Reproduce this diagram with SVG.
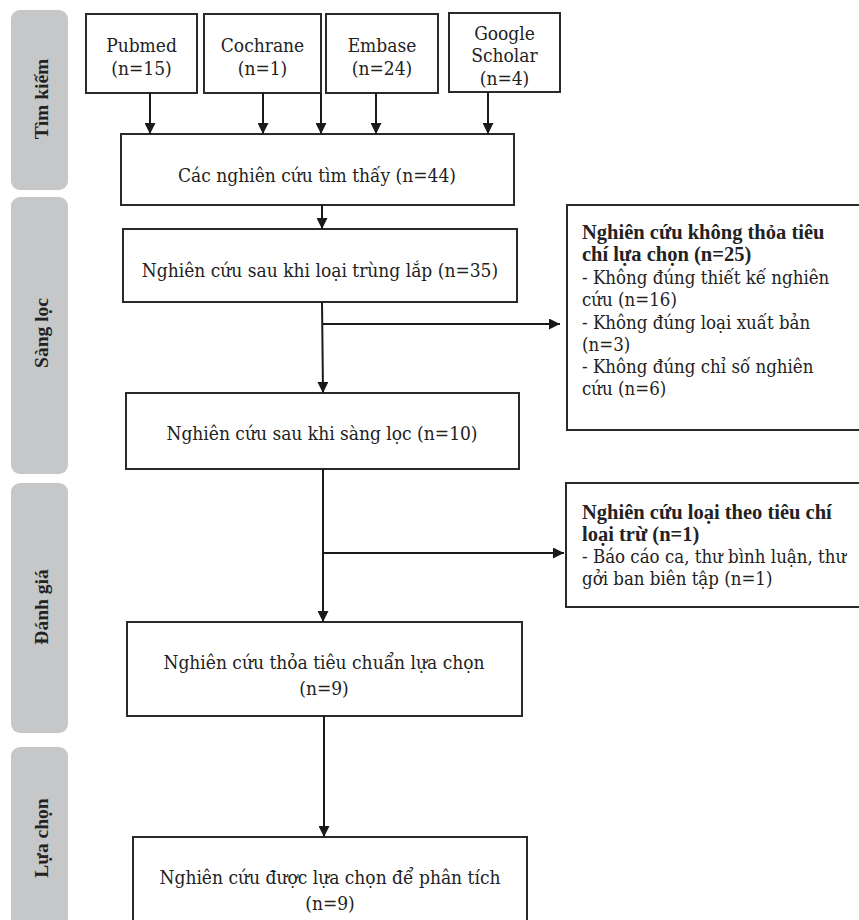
<svg xmlns="http://www.w3.org/2000/svg" width="859" height="920" viewBox="0 0 859 920">
<defs>
<marker id="ah" viewBox="0 0 10 10" refX="10" refY="5" markerWidth="11" markerHeight="11" markerUnits="userSpaceOnUse" orient="auto">
<path d="M0,0 L10,5 L0,10 z" fill="#1a1a1a"/>
</marker>
<style>
.side{fill:#c6c7c9;}
text{fill:#222;}
.lab{font-family:"Liberation Serif","Times New Roman",serif;font-size:19.5px;font-weight:bold;text-anchor:middle;}
.box{fill:#fff;stroke:#2a2a2a;stroke-width:2;}
.t,.tl{font-family:"DejaVu Serif Condensed","DejaVu Serif",serif;font-stretch:condensed;}
.t{font-size:19px;text-anchor:middle;}
.tl{font-size:18.5px;}
.b{font-family:"Liberation Serif","Times New Roman",serif;font-stretch:normal;font-weight:bold;font-size:20.5px;}
.c{fill:none;stroke:#1a1a1a;stroke-width:2;}
</style>
</defs>
<rect width="859" height="920" fill="#fff"/>
<g id="stages">
<g id="stage-search"><rect class="side" x="11" y="10" width="57" height="180" rx="9"/><text class="lab" transform="translate(48,99) rotate(-90)">Tìm kiếm</text></g>
<g id="stage-screen"><rect class="side" x="11" y="197" width="57" height="277" rx="9"/><text class="lab" transform="translate(48,333) rotate(-90)">Sàng lọc</text></g>
<g id="stage-assess"><rect class="side" x="11" y="483" width="57" height="250" rx="9"/><text class="lab" transform="translate(48,607) rotate(-90)">Đánh giá</text></g>
<g id="stage-select"><rect class="side" x="11" y="747" width="57" height="190" rx="9"/><text class="lab" transform="translate(48,838) rotate(-90)">Lựa chọn</text></g>
</g>
<g id="pubmed"><rect class="box" x="86" y="14" width="111" height="79"/><text class="t" x="141.5" y="52">Pubmed</text><text class="t" x="141.5" y="75">(n=15)</text></g>
<g id="cochrane"><rect class="box" x="204" y="14" width="117" height="79"/><text class="t" x="262.5" y="52">Cochrane</text><text class="t" x="262.5" y="75">(n=1)</text></g>
<g id="embase"><rect class="box" x="326" y="14" width="112" height="79"/><text class="t" x="382" y="52">Embase</text><text class="t" x="382" y="75">(n=24)</text></g>
<g id="scholar"><rect class="box" x="449" y="13" width="111" height="79"/><text class="t" x="504.5" y="40">Google</text><text class="t" x="504.5" y="62">Scholar</text><text class="t" x="504.5" y="85">(n=4)</text></g>
<g id="found"><rect class="box" x="121" y="134" width="393" height="71"/><text class="t" x="317" y="182">Các nghiên cứu tìm thấy (n=44)</text></g>
<g id="dedup"><rect class="box" x="123" y="229" width="394" height="73"/><text class="t" x="320" y="277">Nghiên cứu sau khi loại trùng lắp (n=35)</text></g>
<g id="excluded1"><rect class="box" x="567" y="205" width="300" height="225"/>
<text class="b" x="582" y="239">Nghiên cứu không thỏa tiêu</text>
<text class="b" x="582" y="261">chí lựa chọn (n=25)</text>
<text class="tl" x="582" y="284">- Không đúng thiết kế nghiên</text>
<text class="tl" x="582" y="306">cứu (n=16)</text>
<text class="tl" x="582" y="329">- Không đúng loại xuất bản</text>
<text class="tl" x="582" y="351">(n=3)</text>
<text class="tl" x="582" y="373">- Không đúng chỉ số nghiên</text>
<text class="tl" x="582" y="395">cứu (n=6)</text>
</g>
<g id="screened"><rect class="box" x="126" y="393" width="393" height="76"/><text class="t" x="322" y="440">Nghiên cứu sau khi sàng lọc (n=10)</text></g>
<g id="excluded2"><rect class="box" x="566" y="483" width="300" height="124"/>
<text class="b" x="582" y="519">Nghiên cứu loại theo tiêu chí</text>
<text class="b" x="582" y="541">loại trừ (n=1)</text>
<text class="tl" x="582" y="563">- Báo cáo ca, thư bình luận, thư</text>
<text class="tl" x="582" y="585">gởi ban biên tập (n=1)</text>
</g>
<g id="eligible"><rect class="box" x="127" y="622" width="395" height="94"/><text class="t" x="324" y="669">Nghiên cứu thỏa tiêu chuẩn lựa chọn</text><text class="t" x="324" y="695">(n=9)</text></g>
<g id="included"><rect class="box" x="133" y="837" width="394" height="100"/><text class="t" x="330" y="884">Nghiên cứu được lựa chọn để phân tích</text><text class="t" x="330" y="910">(n=9)</text></g>
<g id="connectors">
<line class="c" x1="150" y1="93" x2="150" y2="134" marker-end="url(#ah)"/>
<line class="c" x1="263" y1="93" x2="263" y2="134" marker-end="url(#ah)"/>
<line class="c" x1="321" y1="93" x2="321" y2="134" marker-end="url(#ah)"/>
<line class="c" x1="376" y1="93" x2="376" y2="134" marker-end="url(#ah)"/>
<line class="c" x1="488" y1="92" x2="488" y2="134" marker-end="url(#ah)"/>
<line class="c" x1="322" y1="205" x2="322" y2="229" marker-end="url(#ah)"/>
<line class="c" x1="322" y1="302" x2="323" y2="393" marker-end="url(#ah)"/>
<line class="c" x1="322" y1="324" x2="560" y2="324" marker-end="url(#ah)"/>
<line class="c" x1="323" y1="469" x2="323" y2="622" marker-end="url(#ah)"/>
<line class="c" x1="323" y1="553" x2="564" y2="553" marker-end="url(#ah)"/>
<line class="c" x1="324" y1="716" x2="324" y2="837" marker-end="url(#ah)"/>
</g>
</svg>
